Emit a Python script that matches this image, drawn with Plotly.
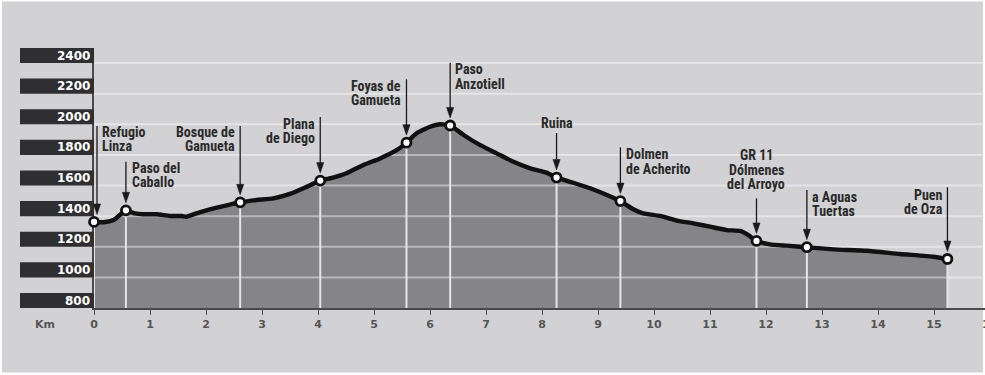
import plotly.graph_objects as go

# ---------------- data ----------------
profile_km = [0, 0.17, 0.35, 0.46, 0.57, 0.73, 0.88, 1.12, 1.36, 1.57, 1.65, 1.83, 2.07, 2.31,
              2.61, 2.9, 3.2, 3.5, 3.74, 4.04, 4.25, 4.51, 4.81, 5.11, 5.41, 5.58, 5.76, 6.0,
              6.18, 6.36, 6.6, 6.89, 7.19, 7.49, 7.79, 8.08, 8.26, 8.56, 8.86, 9.16, 9.4, 9.63,
              9.81, 10.11, 10.41, 10.7, 11.0, 11.3, 11.54, 11.68, 11.83, 12.07, 12.37, 12.73,
              13.2, 13.8, 14.39, 14.99, 15.24]
profile_elev = [1362, 1360, 1375, 1407, 1438, 1418, 1412, 1412, 1401, 1401, 1396, 1418, 1444, 1466,
                1490, 1505, 1516, 1545, 1582, 1632, 1650, 1680, 1734, 1777, 1832, 1880, 1941, 1984,
                2000, 1992, 1930, 1865, 1810, 1755, 1712, 1684, 1652, 1618, 1582, 1538, 1498, 1445,
                1418, 1401, 1371, 1353, 1331, 1309, 1303, 1277, 1238, 1216, 1207, 1197,
                1183, 1174, 1153, 1135, 1120]

wp_names = [["Refugio", "Linza"], ["Paso del", "Caballo"], ["Bosque de", "Gamueta"],
            ["Plana", "de Diego"], ["Foyas de", "Gamueta"], ["Paso", "Anzotiell"], ["Ruina"],
            ["Dolmen", "de Acherito"], ["GR 11", "Dólmenes", "del Arroyo"],
            ["a Aguas", "Tuertas"], ["Puen", "de Oza"]]
wp_km = [0, 0.57, 2.61, 4.04, 5.58, 6.36, 8.26, 9.4, 11.83, 12.73, 15.24]
wp_elev = [1362, 1438, 1490, 1632, 1880, 1992, 1652, 1498, 1238, 1197, 1120]

y_ticks = [800, 1000, 1200, 1400, 1600, 1800, 2000, 2200, 2400]
x_ticks = list(range(0, 16))
x_label = "Km"

# ---------------- layout / style ----------------
W, H = 985, 375
ML, MR, MT, MB = 94, 0, 48, 67
PX_PER_KM = 56.0
plot_w = W - ML - MR
plot_h = H - MT - MB
x_max = plot_w / PX_PER_KM
y_min, y_max = 800, 2498

BG = "#d2d2d4"
FILL = "#858587"
DARK = "#2f2f31"
TXT = "#2a2a2a"
LABEL_FONT = dict(family="Liberation Sans Narrow, Arial Narrow, Roboto Condensed, Roboto, sans-serif",
                  size=14, color=TXT, weight="bold")
NUM_FONT = dict(family="DejaVu Sans", size=12, color="white", weight="bold")
XT_FONT = dict(family="DejaVu Sans", size=11, color="#555555", weight="bold")

label_side = ["right", "right", "left", "left", "left", "right", "center", "right", "center", "right", "left"]
label_dx = [6, 4, -3, -3, -3, 3, 0, 4, 0, 3, -2]
label_dy = [90.3, 42.8, 70.4, 56.8, 56.9, 56, 55, 46.8, 85.9, 50.5, 64.3]
arrow_top = [96, 48.6, 76.3, 63.6, 63.3, 62.8, 44.5, 53.8, 42.6, 57.2, 71.7]
arrow_dx = [3, 0, 0, 0, 0, 0, 0, 0, 0, 0, 0]
LINE_STEP = 14.5

fig = go.Figure()

# filled profile
fig.add_trace(go.Scatter(x=profile_km, y=profile_elev, mode="lines", fill="tozeroy",
                         fillcolor=FILL, line=dict(width=0, shape="spline", smoothing=0.5),
                         hoverinfo="skip", showlegend=False))

# horizontal grid lines (semi transparent, over fill)
gx, gy = [], []
for v in y_ticks[1:]:
    gx += [0, x_max, None]
    gy += [v, v, None]
fig.add_trace(go.Scatter(x=gx, y=gy, mode="lines",
                         line=dict(color="rgba(255,255,255,0.42)", width=2),
                         hoverinfo="skip", showlegend=False))

# vertical waypoint lines
vx, vy = [], []
for k, e in zip(wp_km, wp_elev):
    vx += [k, k, None]
    vy += [y_min, e, None]
fig.add_trace(go.Scatter(x=vx, y=vy, mode="lines",
                         line=dict(color="#e4e4e4", width=2),
                         hoverinfo="skip", showlegend=False))

# profile line
fig.add_trace(go.Scatter(x=profile_km, y=profile_elev, mode="lines",
                         line=dict(color="#111111", width=4.4, shape="spline", smoothing=0.5),
                         hoverinfo="skip", showlegend=False, cliponaxis=False))

# waypoint markers
fig.add_trace(go.Scatter(x=wp_km, y=wp_elev, mode="markers",
                         marker=dict(size=9, color="white", line=dict(color="#111111", width=2.8)),
                         hoverinfo="skip", showlegend=False, cliponaxis=False))

shapes = []
# gray panel with thin white border
shapes.append(dict(type="rect", xref="paper", yref="paper", layer="below",
                   x0=(2 - ML) / plot_w, x1=(983 - ML) / plot_w,
                   y0=(MT + plot_h - 372.5) / plot_h, y1=(MT + plot_h - 1.5) / plot_h,
                   fillcolor=BG, line=dict(width=0)))

box_h = 98
annotations = []
for v in y_ticks:
    shapes.append(dict(type="rect", xref="paper", yref="y", layer="above",
                       x0=(20 - ML) / plot_w, x1=0, y0=v, y1=v + box_h,
                       fillcolor=DARK, line=dict(width=0)))
    annotations.append(dict(xref="paper", yref="y", x=(92 - ML) / plot_w, y=v + box_h / 2,
                            text=str(v), showarrow=False, xanchor="right", yanchor="middle",
                            font=NUM_FONT))

# arrows
for i, (k, e) in enumerate(zip(wp_km, wp_elev)):
    dx = arrow_dx[i]
    tip, head = 7.5, 18
    shapes.append(dict(type="line", xref="x", yref="y", xsizemode="pixel", ysizemode="pixel",
                       xanchor=k, yanchor=e, x0=dx, x1=dx, y0=head - 1, y1=arrow_top[i],
                       line=dict(color="#1a1a1a", width=1.3), layer="above"))
    shapes.append(dict(type="path", xref="x", yref="y", xsizemode="pixel", ysizemode="pixel",
                       xanchor=k, yanchor=e,
                       path=f"M{dx - 3.6},{head} L{dx + 3.6},{head} L{dx},{tip} Z",
                       fillcolor="#1a1a1a", line=dict(color="#1a1a1a", width=0.5), layer="above"))
    anchor = {"right": "left", "left": "right", "center": "center"}[label_side[i]]
    for j, line in enumerate(wp_names[i]):
        annotations.append(dict(xref="x", yref="y", x=k, y=e, xshift=label_dx[i],
                                yshift=label_dy[i] - j * LINE_STEP, text=line, showarrow=False,
                                xanchor=anchor, yanchor="middle", font=LABEL_FONT))

# Km label and clipped 16
annotations.append(dict(xref="paper", yref="paper", x=(45 - ML) / plot_w, y=-16 / plot_h,
                        text=x_label, showarrow=False, xanchor="center", yanchor="middle",
                        font=XT_FONT))
annotations.append(dict(xref="paper", yref="paper", x=(ML + 16 * PX_PER_KM - ML) / plot_w,
                        y=-16 / plot_h, text="16", showarrow=False, xanchor="center",
                        yanchor="middle", font=XT_FONT))

fig.update_layout(
    width=W, height=H, margin=dict(l=ML, r=MR, t=MT, b=MB, pad=0),
    paper_bgcolor="white", plot_bgcolor="rgba(0,0,0,0)",
    shapes=shapes, annotations=annotations, showlegend=False,
    xaxis=dict(range=[0, x_max], tickvals=x_ticks, ticktext=[str(t) for t in x_ticks],
               showgrid=False, zeroline=False, showline=True, linecolor="#4a4a4a", linewidth=1.5,
               ticks="outside", ticklen=5, tickwidth=1.3, tickcolor="#4a4a4a",
               tickfont=XT_FONT, fixedrange=True),
    yaxis=dict(range=[y_min, y_max], showgrid=False, zeroline=False, showticklabels=False,
               showline=True, linecolor="#4a4a4a", linewidth=1.5, ticks="",
               layer="below traces", fixedrange=True),
)

fig.write_html("out.html", config={"displayModeBar": False},
               post_script="document.body.style.margin='0px';document.body.style.overflow='hidden';")
